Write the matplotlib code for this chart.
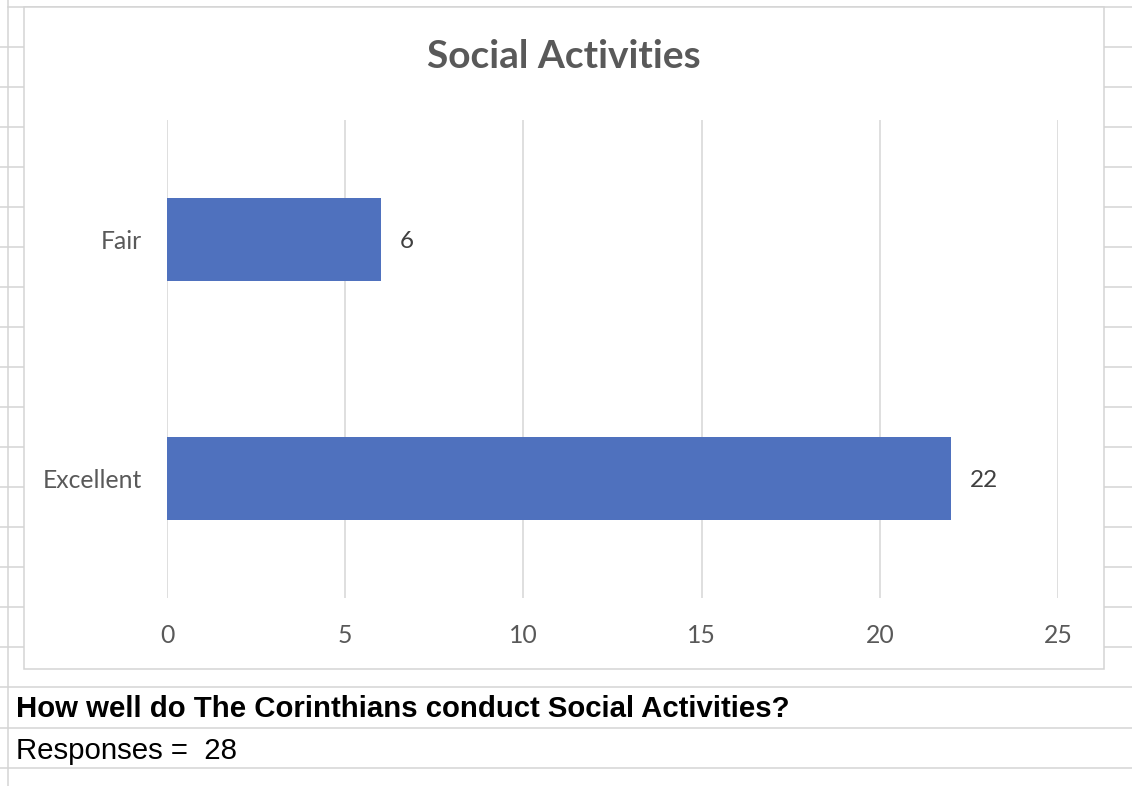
import matplotlib.pyplot as plt
from matplotlib.lines import Line2D
from matplotlib.patches import Rectangle

W, H = 1132, 786

categories = ["Excellent", "Fair"]
counts = [22, 6]
x_ticks = [0, 5, 10, 15, 20, 25]
title = "Social Activities"
question = "How well do The Corinthians conduct Social Activities?"
responses_text = "Responses =  28"

BAR_COLOR = "#4F71BE"
GRID_COLOR = "#D9D9D9"
SHEET_LINE = "#D4D4D4"
LABEL_FONT = "Lato"


def fx(x):
    return x / W


def fy(y):
    return 1 - y / H


def sheet_line(fig, x0, y0, x1, y1, z=0):
    fig.add_artist(Line2D([fx(x0), fx(x1)], [fy(y0), fy(y1)], color=SHEET_LINE,
                          lw=1.1, transform=fig.transFigure, zorder=z))


fig = plt.figure(figsize=(W / 100, H / 100), dpi=100)
fig.patch.set_facecolor("white")

# spreadsheet grid behind the chart
sheet_line(fig, 8, 0, 8, H)
sheet_line(fig, 8, 7, W, 7)
for y in range(47, 660, 40):
    sheet_line(fig, 0, y, 24, y)
    sheet_line(fig, 1104, y, W, y)
for y in [687, 728, 768]:
    sheet_line(fig, 0, y, W, y)

# chart area box
fig.add_artist(Rectangle((fx(24), fy(669)), fx(1104) - fx(24), fy(7) - fy(669),
                         transform=fig.transFigure, facecolor="white",
                         edgecolor=SHEET_LINE, lw=1.1, zorder=1))

ax = fig.add_axes([fx(167), fy(598), fx(1058) - fx(167), fy(120) - fy(598)], zorder=2)
ax.set_facecolor("none")

ypos = list(range(len(categories)))
bars = ax.barh(ypos, counts, height=0.35, color=BAR_COLOR, zorder=3)
dlabels = ax.bar_label(bars, labels=[str(c) for c in counts], padding=13.5,
                       color="#404040", fontsize=17.5, family=LABEL_FONT)
for t in dlabels:
    t.set_va("center_baseline")

ax.set_xlim(0, 25)
ax.set_ylim(-0.5, len(categories) - 0.5)
ax.set_xticks(x_ticks)
ax.set_yticks(ypos)
ax.set_yticklabels(categories)
ax.grid(axis="x", color=GRID_COLOR, lw=1.2, zorder=0)
ax.set_axisbelow(True)
for s in ax.spines.values():
    s.set_visible(False)
ax.tick_params(axis="both", length=0, labelcolor="#595959", labelsize=17.8)
ax.tick_params(axis="x", pad=19)
ax.tick_params(axis="y", pad=18)
for lbl in ax.get_xticklabels() + ax.get_yticklabels():
    lbl.set_family(LABEL_FONT)

fig.text(fx(564), fy(57), title, ha="center", va="center", fontsize=28,
         fontweight="bold", color="#595959", family=LABEL_FONT, zorder=3)

fig.text(fx(16), fy(717), question, ha="left", va="baseline", fontsize=21.2,
         fontweight="bold", color="black", family="Liberation Sans")
fig.text(fx(16), fy(759), responses_text, ha="left", va="baseline", fontsize=21.2,
         color="black", family="Liberation Sans")

fig.savefig("out.png", dpi=100)
